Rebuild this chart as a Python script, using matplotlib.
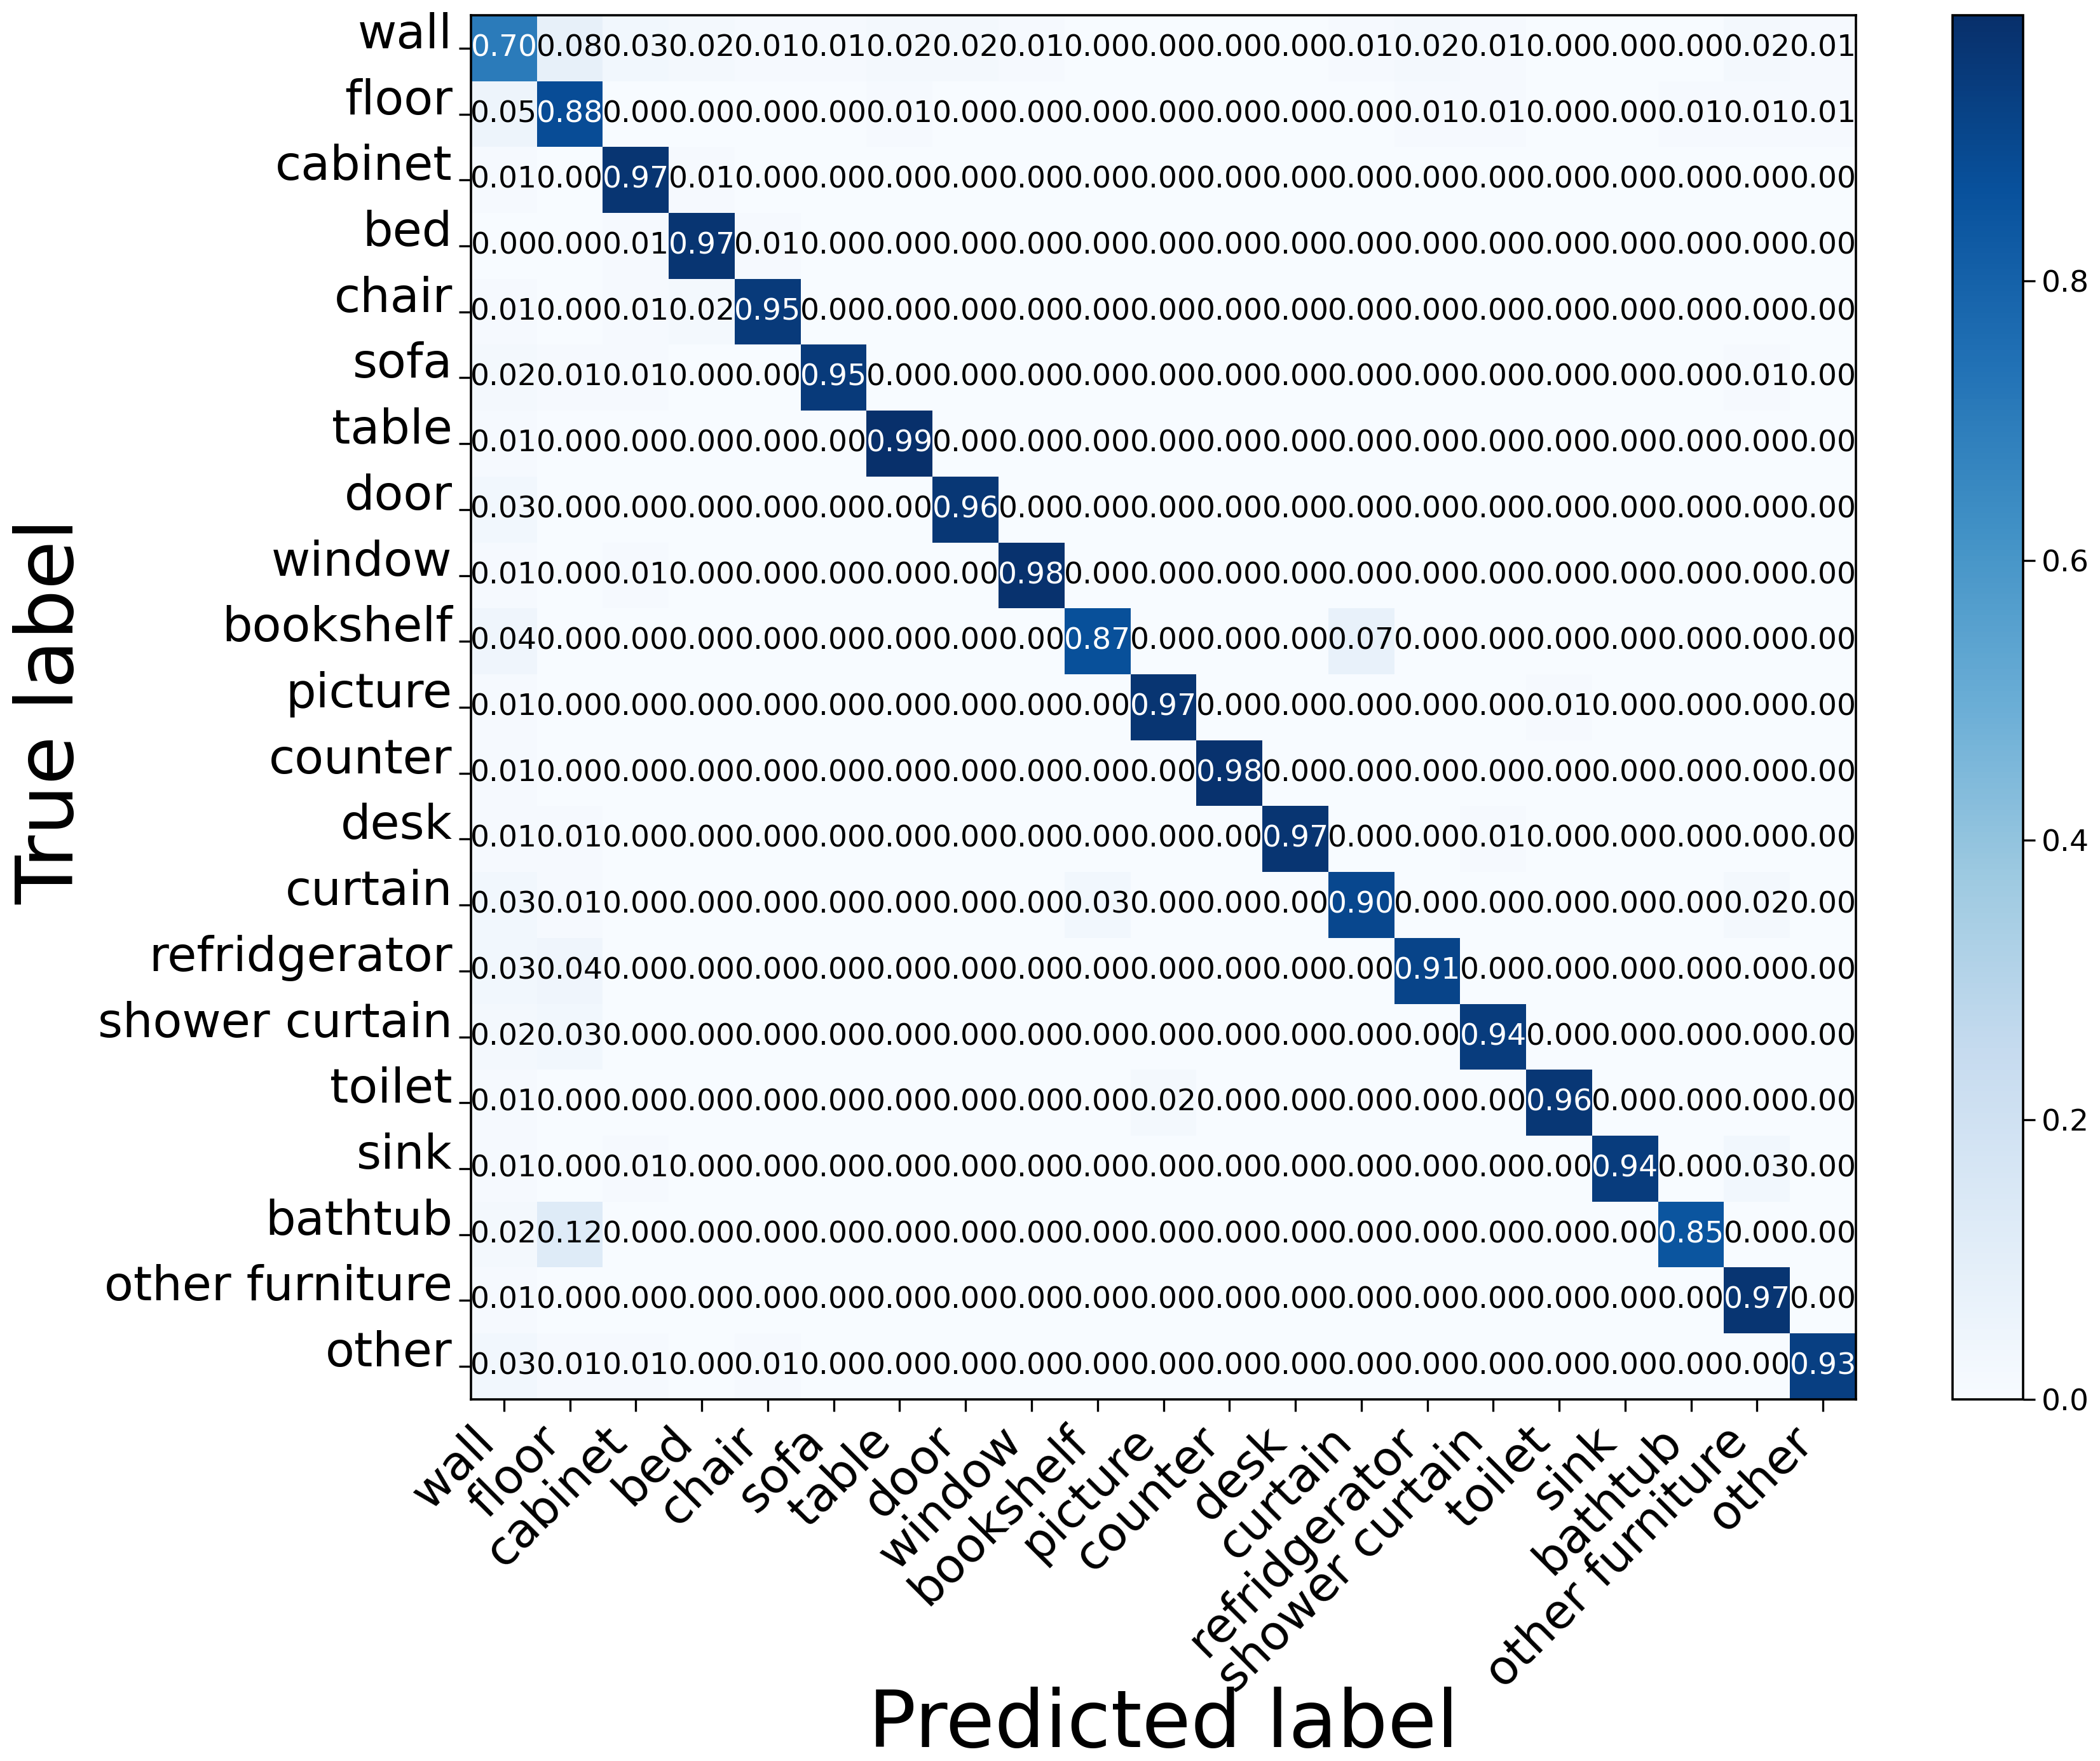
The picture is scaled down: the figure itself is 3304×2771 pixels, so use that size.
import numpy as np
import matplotlib
matplotlib.use("Agg")
import matplotlib.pyplot as plt

classes = ["wall", "floor", "cabinet", "bed", "chair", "sofa", "table", "door",
           "window", "bookshelf", "picture", "counter", "desk", "curtain",
           "refridgerator", "shower curtain", "toilet", "sink", "bathtub",
           "other furniture", "other"]

row_wall = [0.70, 0.08, 0.03, 0.02, 0.01, 0.01, 0.02, 0.02, 0.01, 0.00, 0.00, 0.00, 0.00, 0.01, 0.02, 0.01, 0.00, 0.00, 0.00, 0.02, 0.01]
row_floor = [0.05, 0.88, 0.00, 0.00, 0.00, 0.00, 0.01, 0.00, 0.00, 0.00, 0.00, 0.00, 0.00, 0.00, 0.01, 0.01, 0.00, 0.00, 0.01, 0.01, 0.01]
row_cabinet = [0.01, 0.00, 0.97, 0.01, 0.00, 0.00, 0.00, 0.00, 0.00, 0.00, 0.00, 0.00, 0.00, 0.00, 0.00, 0.00, 0.00, 0.00, 0.00, 0.00, 0.00]
row_bed = [0.00, 0.00, 0.01, 0.97, 0.01, 0.00, 0.00, 0.00, 0.00, 0.00, 0.00, 0.00, 0.00, 0.00, 0.00, 0.00, 0.00, 0.00, 0.00, 0.00, 0.00]
row_chair = [0.01, 0.00, 0.01, 0.02, 0.95, 0.00, 0.00, 0.00, 0.00, 0.00, 0.00, 0.00, 0.00, 0.00, 0.00, 0.00, 0.00, 0.00, 0.00, 0.00, 0.00]
row_sofa = [0.02, 0.01, 0.01, 0.00, 0.00, 0.95, 0.00, 0.00, 0.00, 0.00, 0.00, 0.00, 0.00, 0.00, 0.00, 0.00, 0.00, 0.00, 0.00, 0.01, 0.00]
row_table = [0.01, 0.00, 0.00, 0.00, 0.00, 0.00, 0.99, 0.00, 0.00, 0.00, 0.00, 0.00, 0.00, 0.00, 0.00, 0.00, 0.00, 0.00, 0.00, 0.00, 0.00]
row_door = [0.03, 0.00, 0.00, 0.00, 0.00, 0.00, 0.00, 0.96, 0.00, 0.00, 0.00, 0.00, 0.00, 0.00, 0.00, 0.00, 0.00, 0.00, 0.00, 0.00, 0.00]
row_window = [0.01, 0.00, 0.01, 0.00, 0.00, 0.00, 0.00, 0.00, 0.98, 0.00, 0.00, 0.00, 0.00, 0.00, 0.00, 0.00, 0.00, 0.00, 0.00, 0.00, 0.00]
row_bookshelf = [0.04, 0.00, 0.00, 0.00, 0.00, 0.00, 0.00, 0.00, 0.00, 0.87, 0.00, 0.00, 0.00, 0.07, 0.00, 0.00, 0.00, 0.00, 0.00, 0.00, 0.00]
row_picture = [0.01, 0.00, 0.00, 0.00, 0.00, 0.00, 0.00, 0.00, 0.00, 0.00, 0.97, 0.00, 0.00, 0.00, 0.00, 0.00, 0.01, 0.00, 0.00, 0.00, 0.00]
row_counter = [0.01, 0.00, 0.00, 0.00, 0.00, 0.00, 0.00, 0.00, 0.00, 0.00, 0.00, 0.98, 0.00, 0.00, 0.00, 0.00, 0.00, 0.00, 0.00, 0.00, 0.00]
row_desk = [0.01, 0.01, 0.00, 0.00, 0.00, 0.00, 0.00, 0.00, 0.00, 0.00, 0.00, 0.00, 0.97, 0.00, 0.00, 0.01, 0.00, 0.00, 0.00, 0.00, 0.00]
row_curtain = [0.03, 0.01, 0.00, 0.00, 0.00, 0.00, 0.00, 0.00, 0.00, 0.03, 0.00, 0.00, 0.00, 0.90, 0.00, 0.00, 0.00, 0.00, 0.00, 0.02, 0.00]
row_refridgerator = [0.03, 0.04, 0.00, 0.00, 0.00, 0.00, 0.00, 0.00, 0.00, 0.00, 0.00, 0.00, 0.00, 0.00, 0.91, 0.00, 0.00, 0.00, 0.00, 0.00, 0.00]
row_shower_curtain = [0.02, 0.03, 0.00, 0.00, 0.00, 0.00, 0.00, 0.00, 0.00, 0.00, 0.00, 0.00, 0.00, 0.00, 0.00, 0.94, 0.00, 0.00, 0.00, 0.00, 0.00]
row_toilet = [0.01, 0.00, 0.00, 0.00, 0.00, 0.00, 0.00, 0.00, 0.00, 0.00, 0.02, 0.00, 0.00, 0.00, 0.00, 0.00, 0.96, 0.00, 0.00, 0.00, 0.00]
row_sink = [0.01, 0.00, 0.01, 0.00, 0.00, 0.00, 0.00, 0.00, 0.00, 0.00, 0.00, 0.00, 0.00, 0.00, 0.00, 0.00, 0.00, 0.94, 0.00, 0.03, 0.00]
row_bathtub = [0.02, 0.12, 0.00, 0.00, 0.00, 0.00, 0.00, 0.00, 0.00, 0.00, 0.00, 0.00, 0.00, 0.00, 0.00, 0.00, 0.00, 0.00, 0.85, 0.00, 0.00]
row_other_furniture = [0.01, 0.00, 0.00, 0.00, 0.00, 0.00, 0.00, 0.00, 0.00, 0.00, 0.00, 0.00, 0.00, 0.00, 0.00, 0.00, 0.00, 0.00, 0.00, 0.97, 0.00]
row_other = [0.03, 0.01, 0.01, 0.00, 0.01, 0.00, 0.00, 0.00, 0.00, 0.00, 0.00, 0.00, 0.00, 0.00, 0.00, 0.00, 0.00, 0.00, 0.00, 0.00, 0.93]

cbar_ticks = [0.0, 0.2, 0.4, 0.6, 0.8]

cm = np.array([row_wall, row_floor, row_cabinet, row_bed, row_chair, row_sofa,
               row_table, row_door, row_window, row_bookshelf, row_picture,
               row_counter, row_desk, row_curtain, row_refridgerator,
               row_shower_curtain, row_toilet, row_sink, row_bathtub,
               row_other_furniture, row_other])

W, H = 3304, 2771
fig = plt.figure(figsize=(W / 200, H / 200), dpi=200)

ax_l, ax_r, ax_t, ax_b = 741, 2920, 24, 2202
ax = fig.add_axes([ax_l / W, 1 - ax_b / H, (ax_r - ax_l) / W, (ax_b - ax_t) / H])
im = ax.imshow(cm, interpolation="nearest", cmap="Blues", vmin=0, vmax=cm.max(),
               aspect="auto")

cb_l, cb_r = 3072, 3183
cax = fig.add_axes([cb_l / W, 1 - ax_b / H, (cb_r - cb_l) / W, (ax_b - ax_t) / H])
cb = fig.colorbar(im, cax=cax, ticks=cbar_ticks)
cb.ax.tick_params(labelsize=17, length=7, width=1.2)
cb.outline.set_linewidth(1.3)

n = len(classes)
ticks = np.arange(n)
ax.set_xticks(ticks)
ax.set_yticks(ticks)
ax.set_xticklabels(classes, rotation=45, ha="right", fontsize=27)
ax.set_yticklabels(classes, fontsize=27, va="baseline")
ax.tick_params(length=7, width=1.2)
for s in ax.spines.values():
    s.set_linewidth(1.3)

thresh = cm.max() / 2.0
for i in range(n):
    for j in range(n):
        ax.text(j, i, format(cm[i, j], ".2f"), ha="center", va="center",
                fontsize=17, color="white" if cm[i, j] > thresh else "black")

ax.set_xlabel("Predicted label", fontsize=45)
ax.xaxis.label.set_va("baseline")
ax.xaxis.set_label_coords(0.5, (ax_b - 2749) / (ax_b - ax_t))
ax.set_ylabel("True label", fontsize=45)
ax.yaxis.set_label_coords((141 - ax_l) / (ax_r - ax_l), 0.497)

fig.savefig("out.png", dpi=200)
